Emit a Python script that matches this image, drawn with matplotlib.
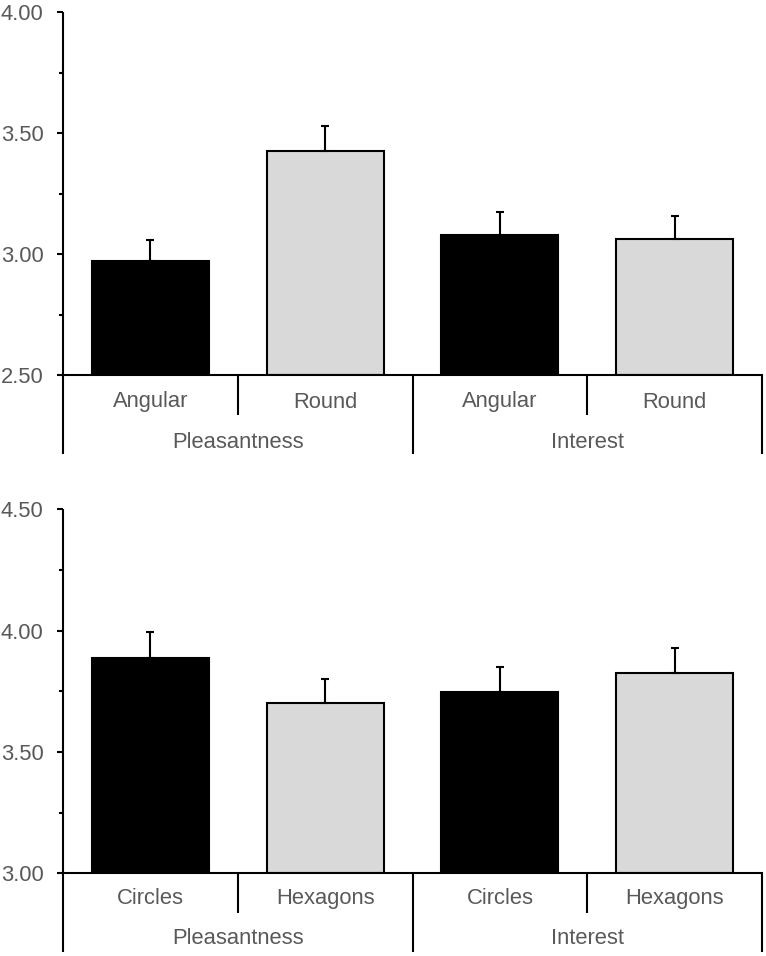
import matplotlib
matplotlib.use("Agg")
import matplotlib.pyplot as plt
from matplotlib import transforms
from matplotlib.ticker import MultipleLocator, FormatStrFormatter

plt.rcParams['font.family'] = ['Liberation Sans', 'DejaVu Sans']

# Data
groups = ["Pleasantness", "Interest"]
top_categories = ["Angular", "Round", "Angular", "Round"]
top_means = [2.972, 3.426, 3.078, 3.062]
top_errors = [0.087, 0.104, 0.094, 0.095]
bottom_categories = ["Circles", "Hexagons", "Circles", "Hexagons"]
bottom_means = [3.888, 3.703, 3.748, 3.824]
bottom_errors = [0.107, 0.099, 0.101, 0.106]
bar_colors = ["#000000", "#d9d9d9", "#000000", "#d9d9d9"]

TXT = "#595959"
FS = 15.8
LW = 1.5

fig = plt.figure(figsize=(7.66, 9.56), dpi=100)


def panel(rect, cats, means, errs, ylim, cat_div, grp_div, cat_lab, grp_lab):
    ax = fig.add_axes(rect)
    n = len(cats)
    xs = [i + 0.5 for i in range(n)]
    ax.bar(xs, [m - ylim[0] for m in means], bottom=ylim[0], width=0.67,
           color=bar_colors, edgecolor="black", linewidth=LW, zorder=2)
    ax.errorbar(xs, means, yerr=[[0] * n, errs], fmt="none", ecolor="black",
                elinewidth=LW, capsize=3, capthick=LW, zorder=3)
    ax.set_xlim(0, n)
    ax.set_ylim(*ylim)
    for s in ["top", "right", "left"]:
        ax.spines[s].set_visible(False)
    ax.spines["bottom"].set_linewidth(LW)
    ax.spines["bottom"].set_zorder(4)
    ax.set_xticks([])
    ax.yaxis.set_major_locator(MultipleLocator(0.5))
    ax.yaxis.set_minor_locator(MultipleLocator(0.25))
    ax.yaxis.set_major_formatter(FormatStrFormatter("%.2f"))
    ax.tick_params(axis="y", which="major", direction="out", length=4, width=LW,
                   pad=10, labelsize=FS, labelcolor=TXT)
    ax.tick_params(axis="y", which="minor", direction="out", length=3, width=LW)
    xt = ax.get_xaxis_transform()
    # left axis line inside the plot area
    ax.plot([0, 0], [0, 1], transform=xt, color="black", lw=LW,
            clip_on=False, solid_capstyle="butt", zorder=5)

    def below_line(x, depth):
        t_bot = transforms.offset_copy(xt, fig=fig, y=-depth, units="dots")
        p0 = xt.transform((x, 0))
        p1 = t_bot.transform((x, 0))
        fig.add_artist(plt.Line2D([p0[0] / fig.bbox.width, p1[0] / fig.bbox.width],
                                  [p0[1] / fig.bbox.height, p1[1] / fig.bbox.height],
                                  transform=fig.transFigure, color="black", lw=LW,
                                  solid_capstyle="butt"))

    below_line(0, grp_div)
    for i in range(1, n + 1):
        below_line(i, grp_div if i % 2 == 0 else cat_div)
    tl = transforms.offset_copy(xt, fig=fig, y=-cat_lab, units="dots")
    for x, c in zip(xs, cats):
        ax.text(x, 0, c, transform=tl, ha="center", va="center", fontsize=FS, color=TXT)
    tg = transforms.offset_copy(xt, fig=fig, y=-grp_lab, units="dots")
    for j, g in enumerate(groups):
        ax.text(2 * j + 1, 0, g, transform=tg, ha="center", va="center", fontsize=FS, color=TXT)
    return ax


panel([63 / 766, 1 - 375 / 956, 699 / 766, 363 / 956], top_categories, top_means,
      top_errors, (2.5, 4.0), 40, 79, 27, 67)
panel([63 / 766, 1 - 873.3 / 956, 699 / 766, 364 / 956], bottom_categories, bottom_means,
      bottom_errors, (3.0, 4.5), 39.5, 78.5, 25, 65)

fig.savefig("out.png", dpi=100)
